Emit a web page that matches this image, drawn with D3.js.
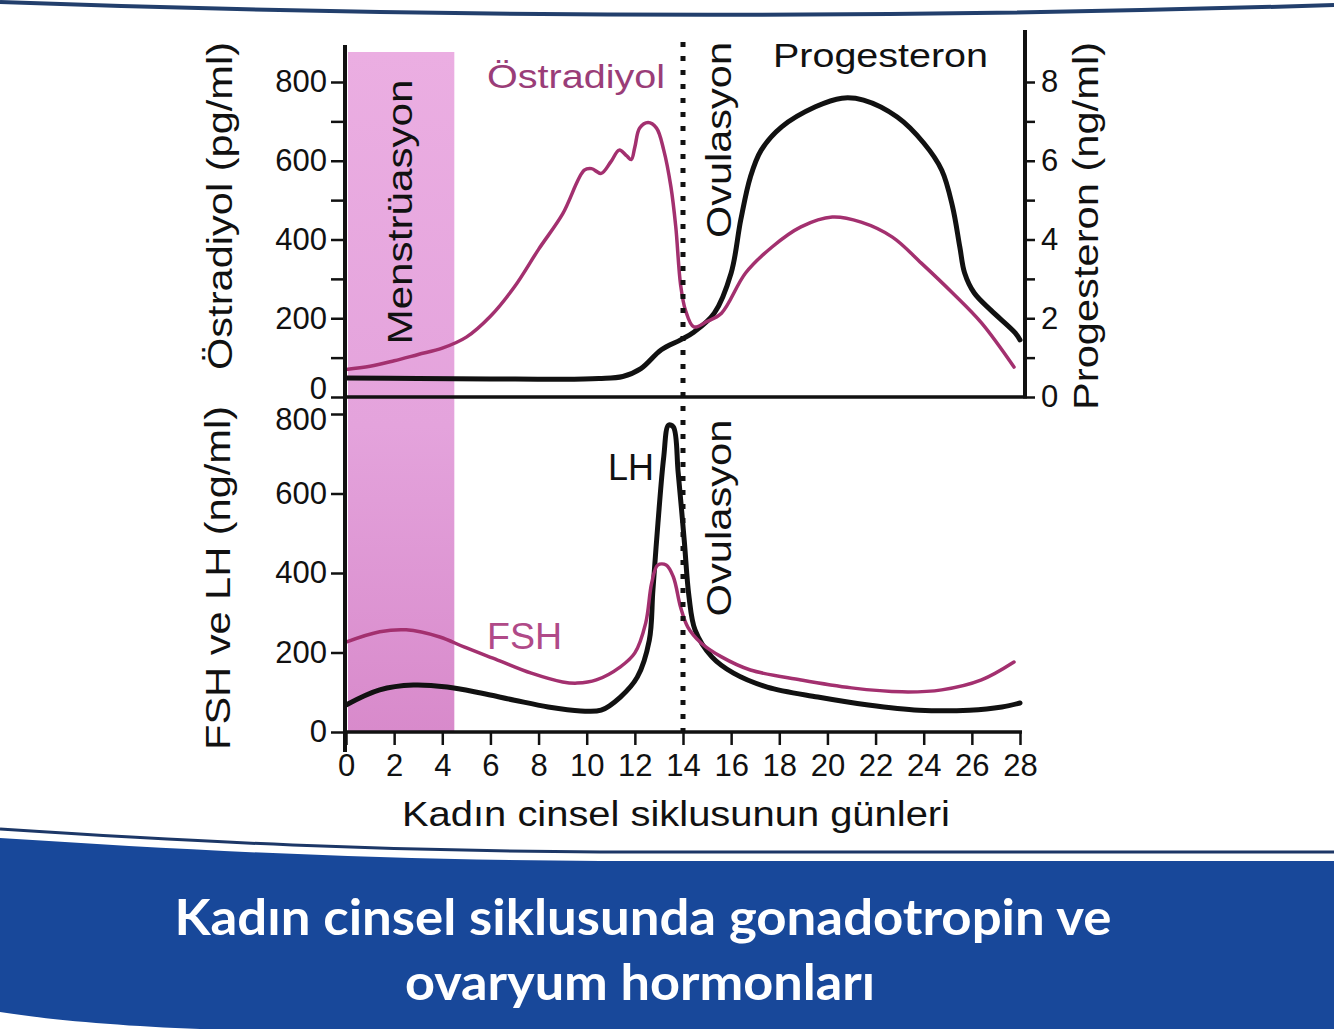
<!DOCTYPE html>
<html>
<head>
<meta charset="utf-8">
<script src="https://cdn.jsdelivr.net/npm/d3@7"></script>
<style>
  body { margin: 0; background: #fff; }
  svg text { font-family: "Liberation Sans", Arial, sans-serif; }
</style>
</head>
<body>
<div id="chart"></div>
<script>
// Menstruation band (days)
const menstruation = [0, 4.5];
const ovulationDay = 14;

// Östradiyol, pg/ml (top panel, left axis)
const estradiolDays = [0, 1, 2, 3, 4, 5, 6, 7, 8, 9, 9.9, 10.2, 10.6, 11.0, 11.35, 11.65, 11.85, 12.0, 12.2, 12.55, 12.9, 13.2, 13.5, 13.7, 13.9, 14.1, 14.45, 15, 15.6, 16.6, 17.7, 18.9, 20.2, 21.4, 22.7, 23.9, 25.2, 26.4, 27.75];
const estradiolVals = [70, 78, 92, 108, 124, 152, 205, 280, 375, 465, 576, 580, 568, 597, 627, 613, 603, 635, 683, 697, 683, 627, 533, 432, 285, 221, 178, 192, 213, 315, 381, 432, 457, 444, 406, 340, 264, 188, 76];

// Progesteron, ng/ml (top panel, right axis)
const progDays = [0, 3, 6, 9, 10.5, 11.5, 12.25, 13.1, 13.9, 14.46, 15.3, 16, 16.4, 16.8, 17.25, 18.1, 19.5, 20.6, 21.5, 22.9, 24.0, 24.75, 25.2, 25.5, 25.7, 26.1, 26.8, 27.8, 28];
const progVals = [0.48, 0.47, 0.46, 0.45, 0.47, 0.52, 0.72, 1.2, 1.45, 1.65, 2.13, 3.15, 4.5, 5.59, 6.27, 6.86, 7.37, 7.59, 7.54, 7.11, 6.45, 5.76, 4.83, 3.81, 3.15, 2.64, 2.2, 1.63, 1.45];

// FSH, ng/ml (bottom panel)
const fshDays = [0, 1.4, 2.5, 3.9, 4.9, 6.3, 7.7, 9.0, 9.6, 10.4, 11.4, 12.0, 12.45, 12.7, 12.95, 13.3, 13.6, 13.9, 14.2, 14.75, 15.6, 16.8, 18.9, 21, 23.1, 24.75, 26.4, 27.75];
const fshVals = [226, 252, 257, 239, 214, 181, 148, 126, 123, 131, 164, 199, 274, 375, 420, 420, 390, 314, 264, 224, 189, 156, 131, 111, 101, 106, 131, 176];

// LH, ng/ml (bottom panel)
const lhDays = [0, 1.4, 2.8, 4.2, 5.6, 7.0, 8.4, 9.75, 10.6, 11.4, 12.1, 12.6, 12.75, 12.96, 13.2, 13.4, 13.6, 13.8, 14.05, 14.25, 14.5, 15.2, 16.1, 17.5, 19.6, 21.7, 23.8, 25.9, 27.25, 28];
const lhVals = [68, 106, 118, 113, 98, 80, 63, 53, 55, 88, 138, 231, 357, 526, 692, 772, 767, 652, 483, 340, 257, 189, 148, 113, 88, 68, 55, 55, 63, 73];

const dayTicks = d3.range(0, 29, 2);
const leftTopTicks = d3.range(0, 801, 100);
const leftBottomTicks = [0, 200, 400, 600, 800];
const rightTicks = d3.range(0, 9, 1);

const width = 1334, height = 1029;
const pink = "#a3306f";

const svg = d3.select("#chart").append("svg")
    .attr("width", width)
    .attr("height", height);

const x = d3.scaleLinear().domain([0, 28]).range([346, 1020]);
const yTop = d3.scaleLinear().domain([0, 800]).range([397, 82]);
const yProg = d3.scaleLinear().domain([0, 8]).range([397, 82]);
const yBot = d3.scaleLinear().domain([0, 800]).range([732, 414]);

// page decoration: curved rule at the top
svg.append("path")
    .attr("d", "M0,2 Q660,26 1334,5")
    .attr("fill", "none")
    .attr("stroke", "#223f6c")
    .attr("stroke-width", 4);

// menstruation band
const grad = svg.append("defs").append("linearGradient")
    .attr("id", "mens").attr("x1", 0).attr("y1", 0).attr("x2", 0).attr("y2", 1);
grad.append("stop").attr("offset", "0%").attr("stop-color", "#ebaee2");
grad.append("stop").attr("offset", "55%").attr("stop-color", "#e4a3dc");
grad.append("stop").attr("offset", "100%").attr("stop-color", "#d88acb");

svg.append("rect")
    .attr("x", x(menstruation[0]) + 2)
    .attr("y", 52)
    .attr("width", x(menstruation[1]) - x(menstruation[0]) - 2)
    .attr("height", yBot(0) - 52)
    .attr("fill", "url(#mens)");

// curves
const zip = (ds, vs) => ds.map((d, i) => [d, vs[i]]);
const curve = d3.curveCatmullRom.alpha(0.5);

function drawLine(data, yScale, color, w) {
    svg.append("path")
        .datum(data)
        .attr("fill", "none")
        .attr("stroke", color)
        .attr("stroke-width", w)
        .attr("stroke-linejoin", "round")
        .attr("stroke-linecap", "round")
        .attr("d", d3.line().x(d => x(d[0])).y(d => yScale(d[1])).curve(curve));
}

drawLine(zip(progDays, progVals), yProg, "#111", 5);
drawLine(zip(estradiolDays, estradiolVals), yTop, pink, 3.5);
drawLine(zip(lhDays, lhVals), yBot, "#111", 5);
drawLine(zip(fshDays, fshVals), yBot, pink, 3.5);

// ovulation line
svg.append("line")
    .attr("x1", x(ovulationDay)).attr("x2", x(ovulationDay))
    .attr("y1", 42).attr("y2", 742)
    .attr("stroke", "#111")
    .attr("stroke-width", 5)
    .attr("stroke-dasharray", "5 9");

// axes
function styleAxis(g, size) {
    g.select(".domain").remove();
    g.selectAll(".tick line").attr("stroke", "#111").attr("stroke-width", 2.5);
    g.selectAll(".tick text").attr("fill", "#111").style("font-size", size + "px");
}

svg.append("g")
    .attr("transform", "translate(345,0)")
    .call(d3.axisLeft(yTop).tickValues(leftTopTicks).tickSize(14).tickPadding(4)
        .tickFormat(d => d % 200 === 0 ? d : ""))
    .call(g => styleAxis(g, 31))
    // the two panels' labels nearly touch at the seam: nudge apart
    .call(g => g.selectAll(".tick text").filter(d => d === 0).attr("dy", "0.05em"));

svg.append("g")
    .attr("transform", "translate(345,0)")
    .call(d3.axisLeft(yBot).tickValues(leftBottomTicks).tickSize(14).tickPadding(4))
    .call(g => styleAxis(g, 31))
    .call(g => g.selectAll(".tick text").filter(d => d === 800).attr("dy", "0.5em"));

svg.append("g")
    .attr("transform", "translate(1025,0)")
    .call(d3.axisRight(yProg).tickValues(rightTicks).tickSize(10).tickPadding(6)
        .tickFormat(d => d % 2 === 0 ? d : ""))
    .call(g => styleAxis(g, 31));

svg.append("g")
    .attr("transform", "translate(0," + yBot(0) + ")")
    .call(d3.axisBottom(x).tickValues(dayTicks).tickSize(13).tickPadding(9))
    .call(g => styleAxis(g, 31));

// spines
const spine = (x1, y1, x2, y2, w) => svg.append("line")
    .attr("x1", x1).attr("y1", y1).attr("x2", x2).attr("y2", y2)
    .attr("stroke", "#111").attr("stroke-width", w);
spine(345, 45, 345, 752, 4);
spine(345, yTop(0), 1025, yTop(0), 3.5);
spine(1025, 30, 1025, yTop(0) + 1.5, 4);
spine(345, yBot(0), 1022, yBot(0), 3.5);

// text labels
function label(txt, px, py, opts) {
    const t = svg.append("text")
        .attr("transform", "translate(" + px + "," + py + ")" + (opts.rotate ? " rotate(-90)" : ""))
        .attr("text-anchor", opts.anchor || "start")
        .attr("fill", opts.color || "#111")
        .style("font-size", opts.size + "px")
        .style("font-weight", opts.weight || "normal")
        .text(txt);
    if (opts.len) t.attr("textLength", opts.len).attr("lengthAdjust", "spacingAndGlyphs");
    if (opts.family) t.style("font-family", opts.family);
    return t;
}

label("Östradiyol (pg/ml)", 232, 206, { rotate: true, anchor: "middle", size: 35, len: 328 });
label("FSH ve LH (ng/ml)", 230, 578, { rotate: true, anchor: "middle", size: 35, len: 344 });
label("Progesteron (ng/ml)", 1098, 226, { rotate: true, anchor: "middle", size: 35, len: 368 });
label("Menstrüasyon", 412, 212, { rotate: true, anchor: "middle", size: 35, len: 265 });
label("Ovulasyon", 731, 140, { rotate: true, anchor: "middle", size: 35, len: 196 });
label("Ovulasyon", 731, 518, { rotate: true, anchor: "middle", size: 35, len: 197 });
label("Östradiyol", 487, 88, { size: 34, len: 178, color: "#9a3d78" });
label("Progesteron", 773, 67, { size: 34, len: 215 });
label("LH", 608, 480, { size: 36, len: 46 });
label("FSH", 487, 649, { size: 37, len: 75, color: "#b04a88" });
label("Kadın cinsel siklusunun günleri", 676, 826, { anchor: "middle", size: 35, len: 548 });

// bottom banner
svg.append("path")
    .attr("d", "M0,829 C200,842 380,851 600,852 L1334,852")
    .attr("fill", "none")
    .attr("stroke", "#1c3767")
    .attr("stroke-width", 3);
svg.append("path")
    .attr("d", "M0,838 C200,851 380,860 600,861 L1334,861 L1334,1029 L200,1029 C120,1026 50,1020 0,1012 Z")
    .attr("fill", "#18489a");

label("Kadın cinsel siklusunda gonadotropin ve", 643, 935,
    { anchor: "middle", size: 50, weight: "bold", color: "#fff", len: 937, family: "Lato, 'Noto Sans', sans-serif" });
label("ovaryum hormonları", 640, 1000,
    { anchor: "middle", size: 50, weight: "bold", color: "#fff", len: 470, family: "Lato, 'Noto Sans', sans-serif" });
</script>
</body>
</html>
